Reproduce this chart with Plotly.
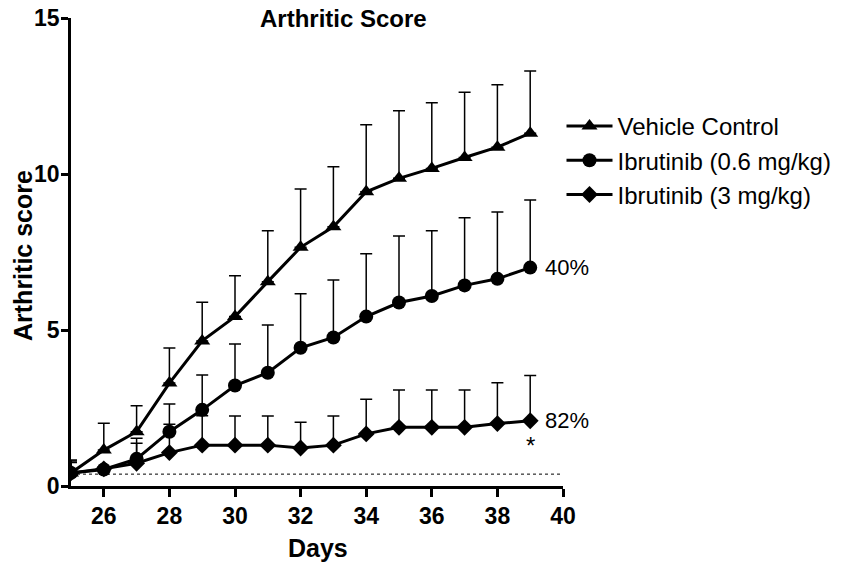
import plotly.graph_objects as go

days = [25, 26, 27, 28, 29, 30, 31, 32, 33, 34, 35, 36, 37, 38, 39]
vehicle = [0.42, 1.15, 1.74, 3.3, 4.65, 5.43, 6.55, 7.65, 8.31, 9.43, 9.86, 10.18, 10.53, 10.86, 11.31]
vehicle_top = [0.83, 2.01, 2.57, 4.42, 5.89, 6.74, 8.18, 9.52, 10.23, 11.58, 12.03, 12.28, 12.62, 12.86, 13.3]
ibr06 = [0.42, 0.53, 0.87, 1.74, 2.44, 3.22, 3.63, 4.43, 4.76, 5.43, 5.88, 6.09, 6.43, 6.64, 7.0]
ibr06_top = [0.75, 0.6, 1.53, 2.63, 3.56, 4.55, 5.16, 6.16, 6.6, 7.44, 8.01, 8.18, 8.6, 8.78, 9.17]
ibr3 = [0.42, 0.55, 0.73, 1.07, 1.31, 1.31, 1.31, 1.22, 1.31, 1.67, 1.88, 1.88, 1.88, 2.0, 2.09]
ibr3_top = [0.8, 0.6, 1.37, 1.98, 2.25, 2.24, 2.24, 2.04, 2.24, 2.78, 3.08, 3.08, 3.08, 3.31, 3.54]
baseline = 0.38

series = [
    ("Vehicle Control", vehicle, vehicle_top, "triangle-up", 14),
    ("Ibrutinib (0.6 mg/kg)", ibr06, ibr06_top, "circle", 14),
    ("Ibrutinib (3 mg/kg)", ibr3, ibr3_top, "diamond", 13),
]

W, H = 849, 565
L, R, T, B = 71, 286, 18, 79
PW, PH = W - L - R, H - T - B


def px(xp):
    return (xp - L) / PW


def py(yp):
    return (H - B - yp) / PH


FONT = "Liberation Sans, Arial, sans-serif"
fig = go.Figure()
for name, vals, tops, sym, sz in series:
    fig.add_trace(go.Scatter(
        x=days, y=vals, name=name, mode="lines+markers",
        line=dict(color="black", width=3),
        marker=dict(symbol=sym, size=sz, color="black"),
        error_y=dict(type="data", symmetric=False,
                     array=[t - v for t, v in zip(tops, vals)],
                     arrayminus=[0] * len(vals),
                     color="black", thickness=1.5, width=6),
    ))

fig.add_shape(type="line", xref="x", yref="y", x0=25, x1=40, y0=baseline, y1=baseline,
              line=dict(color="black", width=1, dash="dot"), layer="below")

fig.add_annotation(x=39, y=ibr06[-1], text="40%", showarrow=False, xanchor="left", xshift=13,
                   font=dict(family=FONT, size=22, color="black"))
fig.add_annotation(x=39, y=ibr3[-1], text="82%", showarrow=False, xanchor="left", xshift=13,
                   font=dict(family=FONT, size=22, color="black"))
fig.add_annotation(x=39, y=ibr3[-1], text="*", showarrow=False, yshift=-25,
                   font=dict(family=FONT, size=24, color="black"))
fig.add_annotation(xref="paper", yref="paper", x=px(343), y=py(19), text="<b>Arthritic Score</b>",
                   showarrow=False, yanchor="middle", xanchor="center",
                   font=dict(family=FONT, size=24, color="black"))
fig.add_annotation(xref="paper", yref="paper", x=px(23), y=py(256),
                   text="<b>Arthritic score</b>", textangle=-90,
                   showarrow=False, xanchor="center", yanchor="middle",
                   font=dict(family=FONT, size=25, color="black"))
fig.add_annotation(xref="paper", yref="paper", x=px(318), y=py(548),
                   text="<b>Days</b>", showarrow=False, xanchor="center", yanchor="middle",
                   font=dict(family=FONT, size=25, color="black"))

fig.update_layout(
    width=W, height=H,
    margin=dict(l=L, r=R, t=T, b=B, autoexpand=False),
    paper_bgcolor="white", plot_bgcolor="white",
    font=dict(family=FONT, color="black"),
    showlegend=True,
    legend=dict(x=px(561.5), y=py(104), xanchor="left", yanchor="top",
                font=dict(family=FONT, size=24, color="black"),
                bgcolor="rgba(0,0,0,0)", itemwidth=46, tracegroupgap=0),
    xaxis=dict(range=[25, 40], tickvals=[26, 28, 30, 32, 34, 36, 38, 40], automargin=False,
               showgrid=False, zeroline=False, showline=True, linecolor="black", linewidth=2.5,
               ticks="outside", ticklen=8, tickwidth=2.5, tickcolor="black",
               ticklabeloverflow="allow",
               tickfont=dict(family=FONT, size=23, color="black", weight="bold")),
    yaxis=dict(range=[0, 15], tickvals=[0, 5, 10, 15], automargin=False,
               showgrid=False, zeroline=False, showline=True, linecolor="black", linewidth=2.5,
               ticks="outside", ticklen=7, tickwidth=2.5, tickcolor="black",
               ticklabeloverflow="allow", ticklabelstandoff=-3,
               tickfont=dict(family=FONT, size=23, color="black", weight="bold")),
)

fig.write_html("out.html", config={"displayModeBar": False},
               post_script="document.body.style.margin='0';")
